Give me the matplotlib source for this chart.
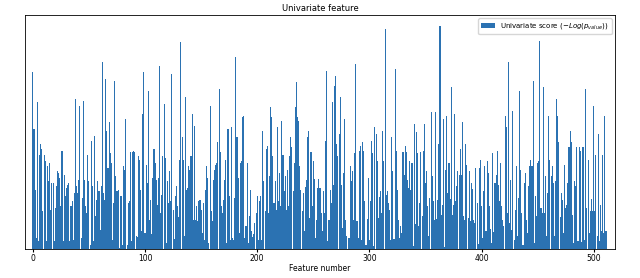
import matplotlib
matplotlib.use('Agg')
import matplotlib.pyplot as plt
import numpy as np

# scores, in blocks of ~50 features (arbitrary units)
seg_a = [178,121,59,11,148,8,94,106,101,38,94,88,8,83,68,86,39,66,66,8,41,63,78,76,71,43,99,8,74,53,61,64,66,8,43,48,9,56,151,63,56,69,144,11]
seg_b = [51,149,69,43,36,94,68,4,109,63,8,114,33,49,68,58,19,63,188,56,49,171,119,81,128,96,86,9,46,169,73,58,59,1,53,53,4,83,79,131,4,46,48,98,8,98,99,98]
seg_c = [13,12,93,89,59,18,136,178,16,84,66,159,29,49,15,71,101,86,69,44,71,184,36,54,93,146,91,6,68,46,78,48,176,39,10,53,63,43,32,89,208,113,89,13,153]
seg_d = [59,61,83,79,93,136,29,124,29,43,28,48,49,39,16,46,9,59,83,71,6,144,38,28,69,79,84,86,108,161,98,43,36,49,69,89,6,121,53,9,123,11,9,51,193,113,71,16,86,88,133,134]
seg_e = [11,23,86,6,33,59,18,12,15,26,36,53,9,48,53,9,119,68,38,101,104,36,73,143,133,93,46,68,39,123,48,76,43,129,94,58,73,39,79,43,93,113,103,58,86,143,168,133]
seg_f = [129,83,59,38,56,18,62,69,113,119,31,98,43,88,70,11,29,61,70,61,36,18,58,36,109,179,8,29,59,46,148,64,164,174,106,93,116,153,64,21,76,131,29,13,11]
seg_g = [11,83,68,78,29,96,186,28,11,99,104,9,108,99,48,4,30,71,9,48,109,96,3,123,116,88,31,52,58,36,119,88,221,54,58,46,39,9,113,78,10,181,99,59,29,11,23,16]
seg_h = [98,74,104,98,69,61,88,59,86,3,126,25,118,96,23,46,98,33,99,126,66,78,43,13,51,138,73,48,29,138,30,49,106,224,34,44,131,2,79,134,56,86,50,163,34,44,136,48]
seg_i = [63,78,74,101,74,128,33,29,106,84,31,78,28,66,60,29,26,81,46,5,81,89,43,11,58,83,18,88,76,43,20,6,96,17,66,74,99,64,48,86,43,29,23,134,123,36,188,26]
seg_j = [69,19,139,9,39,83,13,51,159,79,36,4,66,76,29,16,63,83,89,83,169,6,53,33,86,88,209,41,36,163,36,73,13,56,134,89,73,83,66,13,68,151,134,108,32,56,49,16,84,41]
seg_k = [44,66,103,119,108,34,6,68,63,103,8,103,99,7,103,103,9,161,41,89,16,38,50,38,144,38,94,13,116,8,44,18,94,16,134,18]

scores = np.array(seg_a + seg_b + seg_c + seg_d + seg_e + seg_f + seg_g + seg_h + seg_i + seg_j + seg_k, dtype=float)
features = np.arange(len(scores))

fig = plt.figure(figsize=(6.4, 2.78), dpi=100)
ax = fig.add_axes([25/640, 1 - 249/278, 590/640, 234/278])

ax.bar(features, scores, width=0.95, color='#2b72b2', linewidth=0,
       label=r'Univariate score ($-Log(p_{value})$)')
ax.set_xlim(-7, 519)
ax.set_yticks([])
ax.set_xticks([0, 100, 200, 300, 400, 500])
ax.tick_params(axis='x', labelsize=5.5, length=2, pad=1.5)
ax.set_xlabel('Feature number', fontsize=5.5, labelpad=1)
ax.set_title('Univariate feature', fontsize=6, pad=3)
ax.legend(loc='upper right', fontsize=5, frameon=True, handlelength=2, borderpad=0.4)

for s in ax.spines.values():
    s.set_linewidth(0.6)

fig.savefig('out.png', dpi=100)
